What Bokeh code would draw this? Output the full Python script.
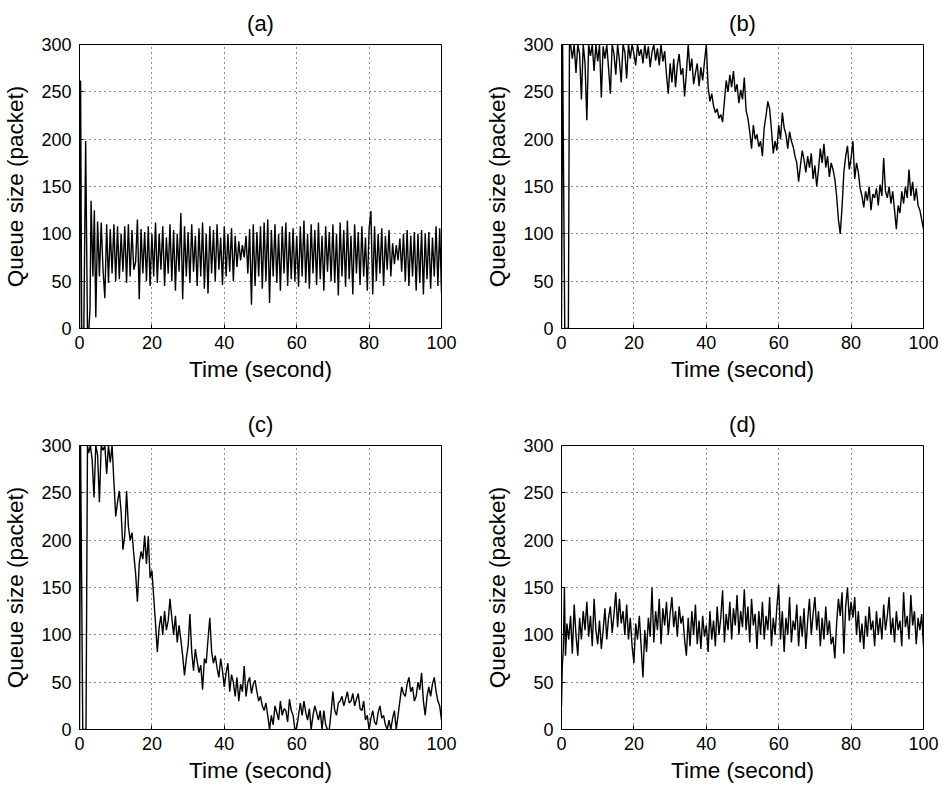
import numpy as np
from bokeh.plotting import figure
from bokeh.models import Range1d, FixedTicker
from bokeh.layouts import column, row
from bokeh.embed import file_html
from bokeh.resources import INLINE

# ---------------- data ----------------
x_ticks = [0, 20, 40, 60, 80, 100]
y_ticks = [0, 50, 100, 150, 200, 250, 300]
titles = ["(a)", "(b)", "(c)", "(d)"]
x_label = "Time (second)"
y_label = "Queue size (packet)"

# (a)
t_a_start = [0, 0.3, 0.6, 1.2, 1.7, 2.2, 2.6, 2.9, 3.2, 3.7, 4.1, 4.5, 5.0]
q_a_start = [0, 262, 0, 0, 198, 0, 0, 20, 135, 55, 125, 12, 113]
q_a_rest = [
    55, 112, 62, 32, 110, 48, 105, 58, 110, 50,
    108, 52, 100, 60, 108, 48, 110, 55, 104, 62, 70, 115, 31, 105, 58, 102, 50, 108, 45, 100,
    55, 112, 48, 100, 62, 108, 45, 96, 58, 110, 50, 104, 40, 100, 60, 122, 31, 108, 55, 102,
    48, 110, 60, 98, 45, 106, 55, 112, 42, 100, 37, 108, 58, 104, 50, 110, 62, 96, 46, 108,
    55, 100, 60, 106, 50, 98, 65, 92, 72, 88, 75, 98, 58, 105, 25, 110, 45, 102, 55, 108,
    42, 112, 50, 115, 27, 104, 55, 110, 48, 100, 40, 108, 58, 112, 45, 102, 52, 106, 50, 98,
    44, 108, 55, 114, 48, 100, 42, 110, 58, 104, 46, 112, 52, 98, 40, 108, 60, 102, 50, 110,
    48, 100, 35, 112, 55, 104, 44, 114, 52, 98, 36, 110, 58, 102, 46, 108, 55, 96, 40, 105,
    124, 36, 108, 50, 100, 58, 106, 45, 98, 62, 104, 55, 90, 68, 88, 72, 95, 60, 100, 50,
    104, 45, 98, 55, 102, 40, 100, 48, 104, 36, 100, 52, 102, 42, 96, 55, 108, 45, 106, 38,
]
t_a = t_a_start + list(np.arange(5.5, 100.01, 0.5))
q_a = q_a_start + q_a_rest

# (b)
t_b_start = [0, 0.3, 0.9, 1.9, 2.2]
q_b_start = [0, 300, 0, 0, 300]
q_b_rest = [
    300, 285, 300, 270, 300, 290, 242, 300, 280, 220, 300, 288, 300, 272, 300, 282,
    300, 244, 298, 285, 300, 275, 248, 300, 290, 268, 300, 283, 260, 300, 292, 264, 300, 285, 300, 290,
    278, 300, 288, 295, 280, 300, 285, 298, 276, 292, 300, 283, 296, 278, 300, 282, 293, 268, 248, 280,
    260, 285, 255, 278, 290, 268, 275, 245, 270, 300, 272, 285, 258, 270, 280, 256, 276, 262, 282, 300,
    255, 240, 248, 235, 228, 232, 222, 226, 218, 240, 262, 250, 268, 255, 272, 250, 258, 238, 252, 242,
    265, 230, 222, 208, 190, 215, 200, 205, 192, 198, 182, 212, 225, 240, 232, 210, 185, 198, 188, 215,
    200, 228, 212, 205, 190, 208, 198, 192, 182, 175, 155, 172, 188, 178, 165, 182, 170, 185, 158, 172,
    150, 168, 190, 175, 195, 170, 182, 160, 175, 168, 158, 140, 115, 100, 128, 165, 182, 193, 168, 180,
    198, 158, 175, 165, 148, 140, 128, 145, 135, 150, 125, 142, 138, 148, 130, 152, 140, 180, 145, 138,
    150, 132, 145, 125, 105, 130, 122, 145, 132, 150, 138, 168, 140, 155, 135, 148, 130, 125, 115, 105,
]
t_b = t_b_start + list(np.arange(2.5, 100.01, 0.5))
q_b = q_b_start + q_b_rest

# (c)
t_c_start = [0, 0.3, 0.9, 1.8, 2.2]
q_c_start = [0, 300, 0, 0, 300]
q_c_rest = [
    292, 300, 285, 245, 300, 290, 240, 300, 295, 300, 270, 300, 282, 300, 262, 225,
    240, 252, 230, 190, 205, 252, 215, 200, 208, 185, 165, 135, 175, 188, 180, 205, 175, 204, 160, 168,
    140, 112, 82, 108, 120, 100, 125, 105, 115, 138, 118, 100, 120, 92, 110, 95, 78, 57, 75, 88,
    122, 82, 62, 85, 72, 60, 68, 42, 75, 70, 95, 118, 82, 70, 78, 65, 55, 75, 62, 45,
    60, 70, 40, 58, 50, 35, 55, 30, 48, 40, 67, 35, 50, 55, 38, 48, 52, 40, 30, 35,
    25, 20, 28, 15, 0, 15, 5, 25, 18, 10, 30, 15, 22, 20, 8, 32, 20, 15, 0, 2,
    15, 28, 15, 30, 18, 10, 22, 0, 15, 25, 18, 10, 20, 0, 20, 5, 0, 0, 18, 40,
    20, 15, 28, 30, 35, 25, 32, 40, 28, 30, 38, 25, 32, 38, 22, 20, 30, 10, 15, 0,
    12, 20, 8, 5, 18, 25, 12, 15, 5, 0, 10, 0, 12, 20, 0, 15, 30, 45, 38, 35,
    48, 55, 40, 45, 30, 35, 50, 42, 60, 30, 15, 35, 45, 35, 48, 55, 40, 30, 25, 10,
]
t_c = t_c_start + list(np.arange(2.5, 100.01, 0.5))
q_c = q_c_start + q_c_rest

# (d)
t_d_start = [0, 0.2, 0.5, 0.8, 1.1]
q_d_start = [25, 65, 85, 150, 78]
q_d_rest = [
    112, 95, 120, 80, 132, 100, 78, 118, 95, 125, 105, 135, 98, 120, 88, 138, 105, 90,
    115, 85, 105, 128, 95, 118, 130, 102, 122, 145, 108, 138, 112, 125, 100, 132, 95, 118, 88, 70,
    112, 95, 120, 88, 55, 105, 82, 118, 98, 150, 92, 125, 105, 138, 90, 128, 110, 135, 100, 122,
    140, 108, 125, 98, 130, 112, 120, 95, 78, 118, 88, 125, 100, 132, 90, 115, 85, 120, 98, 110,
    82, 125, 95, 115, 88, 130, 100, 118, 147, 92, 122, 105, 135, 95, 128, 110, 142, 100, 125, 108,
    148, 105, 130, 92, 138, 110, 122, 85, 125, 100, 135, 95, 120, 105, 140, 88, 118, 100, 130, 153,
    95, 125, 82, 118, 100, 140, 92, 115, 105, 132, 88, 120, 98, 128, 85, 115, 138, 100, 122, 140,
    105, 125, 88, 118, 95, 130, 100, 115, 90, 98, 75, 112, 138, 120, 145, 80, 130, 150, 115, 135,
    118, 140, 100, 125, 92, 112, 85, 120, 98, 130, 105, 115, 88, 125, 100, 118, 95, 132, 105, 120,
    140, 100, 118, 92, 125, 105, 115, 88, 145, 108, 120, 95, 142, 110, 125, 90, 118, 105, 122, 88,
]
t_d = t_d_start + list(np.arange(1.5, 100.01, 0.5))
q_d = q_d_start + q_d_rest

series = [(t_a, q_a), (t_b, q_b), (t_c, q_c), (t_d, q_d)]
for t, q in series:
    assert len(t) == len(q), (len(t), len(q))

FONT = "Liberation Sans"


def make_panel(title, t, q, left, right, top, bottom):
    p = figure(
        frame_width=362, frame_height=284,
        x_range=Range1d(0, 100), y_range=Range1d(0, 300),
        output_backend="svg", toolbar_location=None,
        min_border_left=left, min_border_right=right,
        min_border_top=top, min_border_bottom=bottom,
        title=title,
    )
    p.line(t, q, line_color="black", line_width=1.4)

    p.title.align = "center"
    p.title.text_font = FONT
    p.title.text_font_size = "22px"
    p.title.text_font_style = "normal"
    p.title.text_color = "black"
    p.title.standoff = 17

    p.outline_line_color = "black"
    p.outline_line_alpha = 1.0
    p.outline_line_width = 1

    p.xaxis.ticker = FixedTicker(ticks=x_ticks)
    p.yaxis.ticker = FixedTicker(ticks=y_ticks)
    for ax in (p.xaxis[0], p.yaxis[0]):
        ax.axis_line_color = "black"
        ax.major_tick_line_color = "black"
        ax.major_tick_in = 4
        ax.major_tick_out = 0
        ax.minor_tick_line_color = None
        ax.major_label_text_font = FONT
        ax.major_label_text_font_size = "18px"
        ax.major_label_text_color = "black"
        ax.axis_label_text_font = FONT
        ax.axis_label_text_font_size = "22.5px"
        ax.axis_label_text_font_style = "normal"
        ax.axis_label_text_color = "black"
    p.xaxis.axis_label = x_label
    p.yaxis.axis_label = y_label
    p.xaxis.major_label_standoff = 7
    p.xaxis.axis_label_standoff = 5
    p.yaxis.major_label_standoff = 8
    p.yaxis.axis_label_standoff = 10

    p.xgrid.ticker = FixedTicker(ticks=x_ticks)
    p.ygrid.ticker = FixedTicker(ticks=y_ticks)
    for g in (p.xgrid[0], p.ygrid[0]):
        g.grid_line_color = "black"
        g.grid_line_dash = "1 4"
        g.grid_line_width = 1
        g.grid_line_alpha = 0.9
    p.background_fill_color = "white"
    p.border_fill_color = "white"
    return p


pa = make_panel(titles[0], t_a, q_a, 78, 34, 43, 73)
pb = make_panel(titles[1], t_b, q_b, 86, 18, 43, 73)
pc = make_panel(titles[2], t_c, q_c, 78, 34, 43, 55)
pd = make_panel(titles[3], t_d, q_d, 86, 18, 43, 55)

layout = column(row(pa, pb), row(pc, pd))
open("out.html", "w").write(file_html(layout, INLINE))
